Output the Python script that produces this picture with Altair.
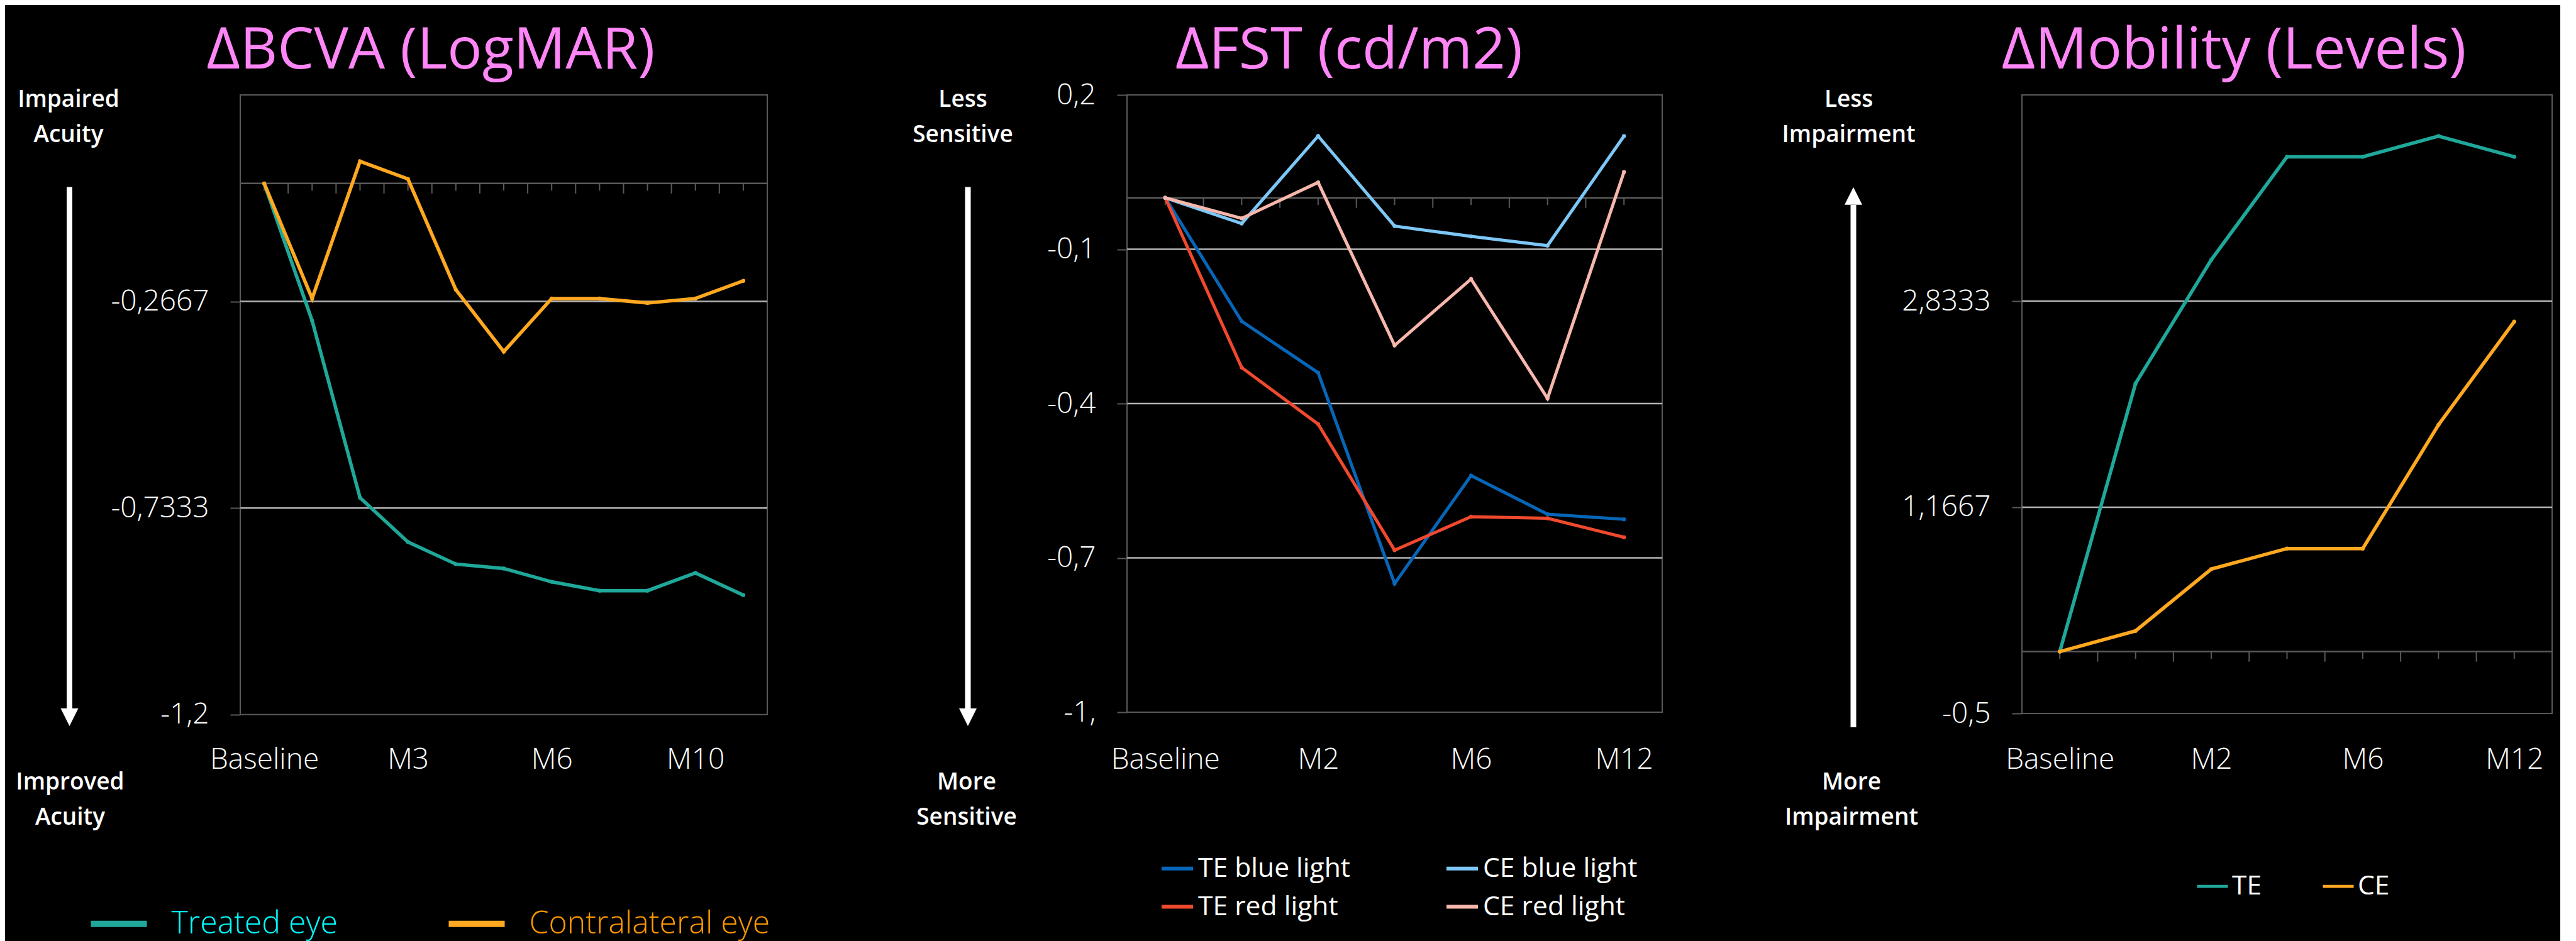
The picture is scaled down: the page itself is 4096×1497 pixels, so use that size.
import altair as alt
import pandas as pd

# ---------------- data ----------------
bcva_title = "ΔBCVA (LogMAR)"
bcva_x_labels = ["Baseline", "", "", "M3", "", "", "M6", "", "", "M10", ""]
bcva_series = ["Treated eye", "Contralateral eye"]
bcva_treated = [0.0, -0.31, -0.71, -0.81, -0.86, -0.87, -0.90, -0.92, -0.92, -0.88, -0.93]
bcva_contralateral = [0.0, -0.26, 0.05, 0.01, -0.24, -0.38, -0.26, -0.26, -0.27, -0.26, -0.22]
bcva_ticks = [-1.2, -0.7333, -0.2667]
bcva_tick_labels = ["-1,2", "-0,7333", "-0,2667"]
bcva_domain = [-1.2, 0.2]
bcva_side_top = ["Impaired", "Acuity"]
bcva_side_bottom = ["Improved", "Acuity"]

fst_title = "ΔFST (cd/m2)"
fst_x_labels = ["Baseline", "", "M2", "", "M6", "", "M12"]
fst_series = ["TE blue light", "TE red light", "CE blue light", "CE red light"]
fst_te_blue = [0.0, -0.24, -0.34, -0.75, -0.54, -0.615, -0.625]
fst_te_red = [0.0, -0.33, -0.44, -0.685, -0.62, -0.623, -0.66]
fst_ce_blue = [0.0, -0.05, 0.12, -0.055, -0.075, -0.093, 0.12]
fst_ce_red = [0.0, -0.04, 0.03, -0.287, -0.158, -0.39, 0.05]
fst_ticks = [-1.0, -0.7, -0.4, -0.1, 0.2]
fst_tick_labels = ["-1,", "-0,7", "-0,4", "-0,1", "0,2"]
fst_domain = [-1.0, 0.2]
fst_side_top = ["Less", "Sensitive"]
fst_side_bottom = ["More", "Sensitive"]

mob_title = "ΔMobility (Levels)"
mob_x_labels = ["Baseline", "", "M2", "", "M6", "", "M12"]
mob_series = ["TE", "CE"]
mob_te = [0.0, 2.167, 3.167, 4.0, 4.0, 4.167, 4.0]
mob_ce = [0.0, 0.167, 0.667, 0.833, 0.833, 1.833, 2.667]
mob_ticks = [-0.5, 1.1667, 2.8333]
mob_tick_labels = ["-0,5", "1,1667", "2,8333"]
mob_domain = [-0.5, 4.5]
mob_side_top = ["Less", "Impairment"]
mob_side_bottom = ["More", "Impairment"]

# ---------------- style ----------------
FONT = "Open Sans"
PINK = "#FF86F7"
FRAME = "#595959"
GRID = "#B4B4B4"
TEAL = "#1FA89A"
ORANGE = "#FFA820"
TE_BLUE = "#0766B8"
TE_RED = "#F0492E"
CE_BLUE = "#7DC7F7"
CE_RED = "#F7B7AC"


def lookup_expr(values, labels):
    expr = "''"
    for v, l in reversed(list(zip(values, labels))):
        expr = f"abs(datum.value - ({v})) < 0.001 ? '{l}' : {expr}"
    return expr


def one_row():
    return pd.DataFrame({"k": [0]})


def panel(title, x_labels, series, values, colors, legend_order, domain, ticks,
          tick_labels, side_top, side_bottom, L):
    n = len(x_labels)
    W, H = L["w"], L["h"]
    xs = alt.Scale(domain=[-0.5, n - 0.5], nice=False, zero=False)
    ys = alt.Scale(domain=domain, nice=False, zero=False)
    px_per_unit = H / (domain[1] - domain[0])

    rows = []
    for s, vals in zip(series, values):
        for i, v in enumerate(vals):
            rows.append({"t": i, "value": v, "series": s})
    df = pd.DataFrame(rows)

    label_idx = [i for i, l in enumerate(x_labels) if l]
    x_expr = "[" + ",".join(f"'{l}'" for l in x_labels) + "][round(datum.value)]"

    x_axis = alt.Axis(values=label_idx, labelExpr=x_expr, ticks=False, domain=False,
                      grid=False, title=None, labelPadding=L["xpad"],
                      labelBaseline="alphabetic", labelFont=FONT, labelFontSize=46,
                      labelFontWeight=300, labelColor="white", labelAngle=0,
                      labelFlush=False, labelOverlap=False, zindex=2)
    y_axis = alt.Axis(values=ticks, labelExpr=lookup_expr(ticks, tick_labels),
                      ticks=True, tickSize=16, tickColor=FRAME, tickWidth=2,
                      domain=False, grid=False, title=None, labelPadding=34,
                      labelFont=FONT, labelFontSize=46, labelFontWeight=300,
                      labelColor="white", labelBaseline="middle",
                      labelFlush=False, labelOverlap=False, zindex=2)

    legend = alt.Legend(orient="none", legendX=L["lx"], legendY=L["ly"],
                        direction="horizontal", columns=L["cols"], title=None,
                        labelFont=FONT, labelFontSize=L["lfs"],
                        labelFontWeight=L["lfw"], labelColor=L["lcolor"],
                        symbolType="stroke", symbolSize=L["ss"],
                        symbolStrokeWidth=L["ssw"], labelOffset=L["lo"],
                        columnPadding=L["cp"], rowPadding=L["rp"], padding=0,
                        labelLimit=0)

    grid_vals = [t for t in ticks if domain[0] < t < domain[1]]
    grid = alt.Chart(pd.DataFrame({"value": grid_vals})).mark_rule(
        color=GRID, strokeWidth=2.5).encode(y=alt.Y("value:Q", scale=ys, axis=y_axis))

    zero = alt.Chart(pd.DataFrame({"value": [0.0]})).mark_rule(
        color=FRAME, strokeWidth=2.5).encode(y=alt.Y("value:Q", scale=ys, axis=y_axis))

    tick_x = [k / 2 for k in range(2 * n - 1)]
    tick_end = [-(16 if k % 2 else 11.5) / px_per_unit for k in range(2 * n - 1)]
    tdf = pd.DataFrame({"t": tick_x, "value": [0.0] * len(tick_x), "y1": tick_end})
    zticks = alt.Chart(tdf).mark_rule(color=FRAME, strokeWidth=2).encode(
        x=alt.X("t:Q", scale=xs, axis=x_axis),
        y=alt.Y("value:Q", scale=ys, axis=y_axis),
        y2="y1:Q")

    lines = alt.Chart(df).mark_line(
        strokeWidth=L["lw"], point=alt.OverlayMarkDef(filled=True, size=40)
    ).encode(
        x=alt.X("t:Q", scale=xs, axis=x_axis),
        y=alt.Y("value:Q", scale=ys, axis=y_axis),
        color=alt.Color("series:N",
                        scale=alt.Scale(domain=legend_order,
                                        range=[colors[s] for s in legend_order]),
                        legend=legend),
        order="t:Q",
    )

    ttl = alt.Chart(pd.DataFrame({"txt": [title]})).mark_text(
        font=FONT, fontSize=92, color=PINK, align="center", baseline="alphabetic"
    ).encode(x=alt.value(L["tx"]), y=alt.value(-42), text="txt:N")

    side_style = dict(font=FONT, fontSize=37, fontWeight=600, color="white",
                      align="center", baseline="alphabetic", lineHeight=56)
    top_txt = alt.Chart(one_row()).mark_text(**side_style).encode(
        x=alt.value(L["stx"]), y=alt.value(18.7), text=alt.value(side_top))
    bot_txt = alt.Chart(one_row()).mark_text(**side_style).encode(
        x=alt.value(L["sbx"]), y=alt.value(1105), text=alt.value(side_bottom))

    if L["up"]:
        shaft_y1, shaft_y2, head_y = 175.0, 1006.0, 160.8
        head_shape = "M-1,1L1,1L0,-1Z"
    else:
        shaft_y1, shaft_y2, head_y = 146.6, 976.5, 990.0
        head_shape = "M-1,-1L1,-1L0,1Z"
    shaft = alt.Chart(one_row()).mark_rule(color="white", strokeWidth=9).encode(
        x=alt.value(L["ax"]), y=alt.value(shaft_y1), y2=alt.value(shaft_y2))
    head = alt.Chart(one_row()).mark_point(
        shape=head_shape, filled=True, fill="white", opacity=1, strokeWidth=0,
        size=784).encode(x=alt.value(L["ax"]), y=alt.value(head_y))

    return alt.layer(grid, zero, zticks, lines, ttl, top_txt, bot_txt, shaft, head
                     ).properties(width=W, height=H)


p1 = panel(bcva_title, bcva_x_labels, bcva_series, [bcva_treated, bcva_contralateral],
           {"Treated eye": TEAL, "Contralateral eye": ORANGE},
           ["Treated eye", "Contralateral eye"], bcva_domain, bcva_ticks,
           bcva_tick_labels, bcva_side_top, bcva_side_bottom,
           dict(w=838, h=985.8, xpad=85.2, lx=-242.5, ly=1269, cols=2, lfs=50,
                lfw=300,
                lcolor=alt.ExprRef("datum.label == 'Treated eye' ? '#00FFFF' : '#FF9900'"),
                ss=7921, ssw=10, lo=34, cp=156, rp=0, lw=5.5, tx=303,
                stx=-273, sbx=-270.5, ax=-271.5, up=False))

p2 = panel(fst_title, fst_x_labels, fst_series,
           [fst_te_blue, fst_te_red, fst_ce_blue, fst_ce_red],
           {"TE blue light": TE_BLUE, "TE red light": TE_RED,
            "CE blue light": CE_BLUE, "CE red light": CE_RED},
           ["TE blue light", "CE blue light", "TE red light", "CE red light"],
           fst_domain, fst_ticks, fst_tick_labels, fst_side_top, fst_side_bottom,
           dict(w=851, h=982, xpad=89, lx=52, ly=1202.6, cols=2, lfs=42.6,
                lfw=400, lcolor="white", ss=2500, ssw=6, lo=5, cp=140, rp=11,
                lw=5, tx=353, stx=-261, sbx=-255, ax=-253, up=False))

p3 = panel(mob_title, mob_x_labels, mob_series, [mob_te, mob_ce],
           {"TE": TEAL, "CE": ORANGE}, ["TE", "CE"], mob_domain, mob_ticks,
           mob_tick_labels, mob_side_top, mob_side_bottom,
           dict(w=843, h=984, xpad=87, lx=276, ly=1232, cols=2, lfs=42.6,
                lfw=400, lcolor="white", ss=2401, ssw=4.7, lo=4, cp=87, rp=0,
                lw=5.5, tx=337, stx=-275.4, sbx=-271, ax=-268, up=True))

chart = alt.hconcat(p1, p2, p3, spacing=572, bounds="flush").resolve_scale(
    x="independent", y="independent", color="independent"
).resolve_legend(color="independent").configure(
    background="black", padding={"left": 16, "top": 26, "right": 10, "bottom": 30}
).configure_view(stroke=FRAME, strokeWidth=2)

chart.save("out.html", embed_options={"renderer": "svg", "actions": False})
